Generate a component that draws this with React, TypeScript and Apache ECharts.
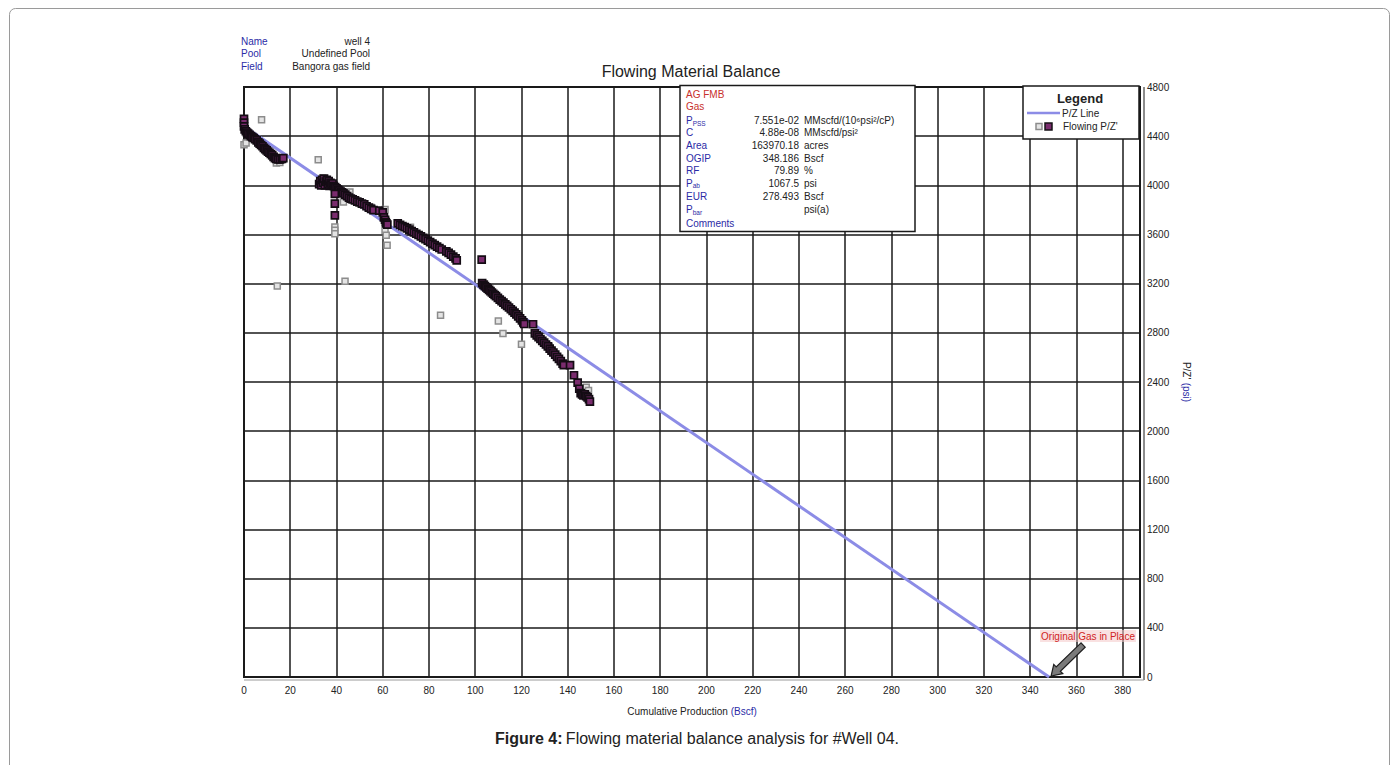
import React, { useEffect, useRef } from "react";
import * as echarts from "echarts";

// ---------- data ----------
const OGIP = 348.186;
const PI_Z = 4480;
const pzLine: [number, number][] = [
  [0, PI_Z],
  [OGIP, 0],
];

const flowingPZ: [number, number][] = [
  [0, 4540], [0, 4510], [0, 4480], [0.3, 4455], [0.8, 4440], [1.3, 4430], [1.8, 4420], [2.4, 4410],
  [3, 4400], [3.6, 4392], [4.2, 4385], [4.8, 4375], [5.5, 4365], [6.2, 4350], [6.8, 4340], [7.4, 4328],
  [8, 4318], [8.6, 4305], [9.2, 4295], [9.8, 4285], [10.4, 4275], [11, 4265], [11.6, 4255], [12.2, 4245],
  [12.8, 4232], [13.4, 4222], [14, 4215], [14.8, 4212], [15.6, 4210], [16.4, 4215], [17, 4222],
  [32.5, 4010], [33, 4035], [33.4, 4000], [33.8, 4045], [34.2, 4020], [34.6, 4055], [35, 4000], [35.4, 4030],
  [35.8, 4045], [36.2, 4010], [36.6, 4035], [37, 3995], [37.4, 4020], [37.8, 4005], [38.3, 4015], [38.8, 3995],
  [39.4, 3985], [40, 3975], [40.6, 3965], [41.2, 3958], [41.8, 3950], [42.4, 3942], [43, 3935], [43.8, 3925],
  [44.6, 3912], [45.4, 3900], [46.2, 3892], [47, 3885], [48, 3878], [49, 3868], [50, 3862], [51, 3852],
  [52, 3845], [53, 3830], [54, 3818], [55, 3808], [56, 3798],
  [39.3, 3930], [39.3, 3851], [39.3, 3756],
  [58.5, 3795], [60, 3780], [60.5, 3740], [61, 3720], [61.3, 3700], [61.6, 3690], [62, 3680],
  [66.5, 3690], [67.5, 3678], [68.5, 3668], [69.5, 3660], [70.5, 3650], [71.5, 3640], [72.5, 3628],
  [73.5, 3618], [74.5, 3606], [75.5, 3596], [76.5, 3584], [77.5, 3572], [78.5, 3562], [79.5, 3550],
  [80.5, 3538], [81.5, 3526], [82.5, 3514], [83.5, 3502], [84.5, 3490], [85.5, 3478], [87.5, 3462],
  [88.5, 3450], [89.5, 3436], [90.5, 3420], [91.5, 3405], [92, 3390],
  [102.8, 3396],
  [103, 3205], [103.6, 3190], [104.2, 3180], [104.8, 3170], [105.4, 3160], [106, 3150], [106.6, 3140],
  [107.2, 3128], [107.8, 3118], [108.4, 3108], [109, 3098], [109.8, 3085], [110.6, 3070], [111.4, 3058],
  [112.2, 3046], [113, 3032], [113.8, 3020], [114.6, 3006], [115.4, 2992], [116.2, 2978], [117, 2964],
  [117.8, 2950], [118.6, 2934], [119.4, 2918], [120.2, 2902], [120.8, 2885], [121.2, 2872],
  [125, 2870],
  [125.8, 2795], [126.6, 2780], [127.4, 2765], [128.2, 2750], [129, 2735], [129.8, 2720], [130.6, 2705],
  [131.4, 2690], [132.2, 2672], [133, 2655], [133.8, 2640], [134.6, 2622], [135.4, 2605], [136.2, 2588],
  [137, 2570], [137.8, 2550], [138.3, 2538], [141, 2537], [142.7, 2455], [144.3, 2395], [145, 2345],
  [145.6, 2310], [146.2, 2300], [146.8, 2292], [147.4, 2300], [148, 2285], [148.6, 2275], [149.2, 2260],
  [149.6, 2240],
];

const flowingPZGray: [number, number][] = [
  [0, 4330], [0.9, 4345], [2, 4400], [7.6, 4534], [12, 4240], [14, 4182], [15.5, 4185], [14.4, 3181],
  [32.1, 4209], [34, 4060], [39.3, 3661], [39.3, 3634], [39.3, 3607], [43, 3864], [43.7, 3219],
  [45.8, 3946], [48, 3880], [55, 3820], [61, 3803], [61, 3634], [61.5, 3593], [61.9, 3512], [72, 3660],
  [85, 2943], [104, 3200], [110, 2897], [112, 2794], [120, 2707], [132, 2690], [148, 2358], [149, 2330],
];

const headerLabels = ["Name", "Pool", "Field"];
const headerValues = ["well 4", "Undefined Pool", "Bangora gas field"];

const infoTitle = ["AG FMB", "Gas"];
const infoLabels = ["{m|P}{s|PSS}", "C", "Area", "OGIP", "RF", "{m|P}{s|ab}", "EUR", "{m|P}{s|bar}", "Comments"];
const infoValues = ["7.551e-02", "4.88e-08", "163970.18", "348.186", "79.89", "1067.5", "278.493", "", ""];
const infoUnits = ["MMscfd/(10⁶psi²/cP)", "MMscfd/psi²", "acres", "Bscf", "%", "psi", "Bscf", "psi(a)", ""];

const X_MIN = 0;
const X_MAX = 387.5;
const X_STEP = 20;
const Y_MIN = 0;
const Y_MAX = 4800;
const Y_STEP = 400;

// ---------- styles ----------
const FONT = "'Liberation Sans', Arial, sans-serif";
const BLUE = "#2b2ba6";
const RED = "#c8302c";
const INK = "#1a1a1a";
const LINE_COLOR = "#8c8ce6";

function arrowPolygon(sx: number, sy: number, tx: number, ty: number, shaft: number, head: number, headLen: number) {
  const dx = tx - sx;
  const dy = ty - sy;
  const len = Math.sqrt(dx * dx + dy * dy);
  const ux = dx / len;
  const uy = dy / len;
  const nx = -uy;
  const ny = ux;
  const bx = tx - ux * headLen;
  const by = ty - uy * headLen;
  return [
    [sx + nx * shaft / 2, sy + ny * shaft / 2],
    [bx + nx * shaft / 2, by + ny * shaft / 2],
    [bx + nx * head / 2, by + ny * head / 2],
    [tx, ty],
    [bx - nx * head / 2, by - ny * head / 2],
    [bx - nx * shaft / 2, by - ny * shaft / 2],
    [sx - nx * shaft / 2, sy - ny * shaft / 2],
  ];
}

export default function App() {
  const ref = useRef<HTMLDivElement>(null);

  useEffect(() => {
    document.body.style.margin = "0";
    const el = ref.current;
    if (!el) return;
    const chart = echarts.init(el, null, { renderer: "svg" });

    const gridLeft = 244;
    const gridTop = 87;
    const gridWidth = 896;
    const gridHeight = 590;

    chart.setOption({
      animation: false,
      backgroundColor: "#ffffff",
      textStyle: { fontFamily: FONT },
      title: {
        text: "Flowing Material Balance",
        left: 686,
        top: 58,
        textAlign: "center",
        textStyle: { fontFamily: FONT, fontSize: 16, fontWeight: "normal", color: "#222" },
      },
      grid: {
        left: gridLeft,
        top: gridTop,
        width: gridWidth,
        height: gridHeight,
        show: true,
        borderColor: INK,
        borderWidth: 2,
        backgroundColor: "#fff",
      },
      xAxis: {
        type: "value",
        min: X_MIN,
        max: X_MAX,
        interval: X_STEP,
        name: "Cumulative Production {b|(Bscf)}",
        nameLocation: "middle",
        nameGap: 29,
        nameTextStyle: {
          fontFamily: FONT,
          fontSize: 10,
          color: "#222",
          rich: { b: { fontFamily: FONT, fontSize: 10, color: BLUE } },
        },
        axisLine: { show: true, onZero: false, lineStyle: { color: INK, width: 2 } },
        axisTick: { show: false },
        axisLabel: { fontFamily: FONT, fontSize: 10, color: "#222", margin: 8, showMaxLabel: false },
        splitLine: { show: true, lineStyle: { color: INK, width: 1.5 } },
      },
      yAxis: {
        type: "value",
        position: "right",
        min: Y_MIN,
        max: Y_MAX,
        interval: Y_STEP,
        name: "{k|P/Z'} {b|(psi)}",
        nameLocation: "middle",
        nameRotate: -90,
        nameGap: 40,
        nameTextStyle: {
          rich: {
            k: { fontFamily: FONT, fontSize: 10, color: "#222" },
            b: { fontFamily: FONT, fontSize: 10, color: BLUE },
          },
        },
        axisLine: { show: true, lineStyle: { color: INK, width: 2 } },
        axisTick: { show: false },
        axisLabel: {
          fontFamily: FONT,
          fontSize: 10,
          color: "#222",
          margin: 7,
          formatter: (v: number) => String(v),
        },
        splitLine: { show: true, lineStyle: { color: INK, width: 1.5 } },
      },
      series: [
        {
          name: "P/Z Line",
          type: "line",
          data: pzLine,
          symbol: "none",
          lineStyle: { color: LINE_COLOR, width: 3 },
          z: 3,
        },
        {
          name: "Flowing P/Z' (excluded)",
          type: "scatter",
          data: flowingPZGray,
          symbol: "rect",
          symbolSize: 6,
          itemStyle: { color: "#e4e4e4", borderColor: "#8c8c8c", borderWidth: 1.5, opacity: 1 },
          z: 4,
        },
        {
          name: "Flowing P/Z'",
          type: "scatter",
          data: flowingPZ,
          symbol: "rect",
          symbolSize: 7,
          itemStyle: { color: "#7a2c6e", borderColor: "#140c14", borderWidth: 1.7, opacity: 1 },
          z: 5,
        },
      ],
    });

    const tip = chart.convertToPixel({ xAxisIndex: 0, yAxisIndex: 0 }, [OGIP, 0]) as number[];
    const arrowPts = arrowPolygon(tip[0] + 34, tip[1] - 32, tip[0] + 2, tip[1] - 1, 6, 13, 10);

    const rowYs = [120.7, 132.8, 145.4, 158.2, 170.8, 183.4, 196.2, 209.8, 223.2];

    const elements: any[] = [];
    // figure frame
    elements.push({
      type: "rect",
      shape: { x: 9.5, y: 8.5, width: 1380, height: 800, r: 6 },
      style: { fill: "none", stroke: "#9a9a9a", lineWidth: 1 },
      z: 0,
      silent: true,
    });
    // extra parallel lines of the right and bottom axes
    elements.push({
      type: "line",
      shape: { x1: gridLeft + gridWidth + 4, y1: gridTop, x2: gridLeft + gridWidth + 4, y2: gridTop + gridHeight + 3 },
      style: { stroke: INK, lineWidth: 1 },
      z: 10,
    });
    elements.push({
      type: "line",
      shape: { x1: gridLeft, y1: gridTop + gridHeight + 3, x2: gridLeft + gridWidth + 4, y2: gridTop + gridHeight + 3 },
      style: { stroke: "#9a9a9a", lineWidth: 1 },
      z: 10,
    });
    // header
    headerLabels.forEach((t, i) => {
      elements.push({
        type: "text",
        x: 241,
        y: 41 + i * 12.5,
        style: { text: t, fill: BLUE, font: `10px ${FONT}`, textAlign: "left", textVerticalAlign: "middle" },
        z: 10,
      });
      elements.push({
        type: "text",
        x: 370,
        y: 41 + i * 12.5,
        style: { text: headerValues[i], fill: "#222", font: `10px ${FONT}`, textAlign: "right", textVerticalAlign: "middle" },
        z: 10,
      });
    });
    // info box
    elements.push({
      type: "rect",
      shape: { x: 680, y: 85.5, width: 235, height: 146 },
      style: { fill: "#fff", stroke: INK, lineWidth: 1.5 },
      z: 20,
    });
    infoTitle.forEach((t, i) => {
      elements.push({
        type: "text",
        x: 686,
        y: 94 + i * 12.5,
        style: { text: t, fill: RED, font: `10px ${FONT}`, textAlign: "left", textVerticalAlign: "middle" },
        z: 21,
      });
    });
    infoLabels.forEach((t, i) => {
      elements.push({
        type: "text",
        x: 686,
        y: rowYs[i],
        style: {
          text: t,
          fill: BLUE,
          font: `10px ${FONT}`,
          textAlign: "left",
          textVerticalAlign: "middle",
          rich: {
            m: { fontFamily: FONT, fontSize: 10, fill: BLUE, color: BLUE },
            s: { fontFamily: FONT, fontSize: 6.5, fill: BLUE, color: BLUE, padding: [5, 0, 0, 0] },
          },
        },
        z: 21,
      });
      if (infoValues[i]) {
        elements.push({
          type: "text",
          x: 799,
          y: rowYs[i],
          style: { text: infoValues[i], fill: "#222", font: `10px ${FONT}`, textAlign: "right", textVerticalAlign: "middle" },
          z: 21,
        });
      }
      if (infoUnits[i]) {
        elements.push({
          type: "text",
          x: 804,
          y: rowYs[i],
          style: { text: infoUnits[i], fill: "#222", font: `10px ${FONT}`, textAlign: "left", textVerticalAlign: "middle" },
          z: 21,
        });
      }
    });
    // legend box
    elements.push({
      type: "rect",
      shape: { x: 1023, y: 86, width: 116, height: 53 },
      style: { fill: "#fff", stroke: INK, lineWidth: 1.5 },
      z: 20,
    });
    elements.push({
      type: "text",
      x: 1080,
      y: 98,
      style: { text: "Legend", fill: "#222", font: `bold 13px ${FONT}`, textAlign: "center", textVerticalAlign: "middle" },
      z: 21,
    });
    elements.push({
      type: "line",
      shape: { x1: 1027, y1: 113, x2: 1060, y2: 113 },
      style: { stroke: LINE_COLOR, lineWidth: 2.5 },
      z: 21,
    });
    elements.push({
      type: "text",
      x: 1062,
      y: 113,
      style: { text: "P/Z Line", fill: "#222", font: `10px ${FONT}`, textAlign: "left", textVerticalAlign: "middle" },
      z: 21,
    });
    elements.push({
      type: "rect",
      shape: { x: 1036, y: 123.5, width: 6, height: 6 },
      style: { fill: "#e4e4e4", stroke: "#8c8c8c", lineWidth: 1.5 },
      z: 21,
    });
    elements.push({
      type: "rect",
      shape: { x: 1045, y: 123, width: 7, height: 7 },
      style: { fill: "#7a2c6e", stroke: "#161016", lineWidth: 1.5 },
      z: 21,
    });
    elements.push({
      type: "text",
      x: 1063,
      y: 126,
      style: { text: "Flowing P/Z'", fill: "#222", font: `10px ${FONT}`, textAlign: "left", textVerticalAlign: "middle" },
      z: 21,
    });
    // OGIP annotation
    elements.push({
      type: "text",
      x: 1088,
      y: 636,
      style: {
        text: "Original Gas in Place",
        fill: "#d02424",
        font: `10px ${FONT}`,
        textAlign: "center",
        textVerticalAlign: "middle",
        backgroundColor: "rgba(244,200,200,0.55)",
        padding: [1, 1, 1, 1],
      },
      z: 22,
    });
    elements.push({
      type: "polygon",
      shape: { points: arrowPts },
      style: { fill: "#7a7a7a", stroke: "#1e1e1e", lineWidth: 1.2 },
      z: 22,
    });
    // caption
    elements.push({
      type: "text",
      x: 697,
      y: 738,
      style: {
        text: "{b|Figure 4:} {n|Flowing material balance analysis for #Well 04.}",
        textAlign: "center",
        textVerticalAlign: "middle",
        rich: {
          b: { fontFamily: FONT, fontSize: 16, fontWeight: "bold", fill: "#222", color: "#222" },
          n: { fontFamily: FONT, fontSize: 16, fill: "#222", color: "#222" },
        },
      },
      z: 10,
    });

    chart.setOption({ graphic: { elements } });

    return () => {
      chart.dispose();
    };
  }, []);

  return <div ref={ref} style={{ width: 1398, height: 765 }} />;
}
